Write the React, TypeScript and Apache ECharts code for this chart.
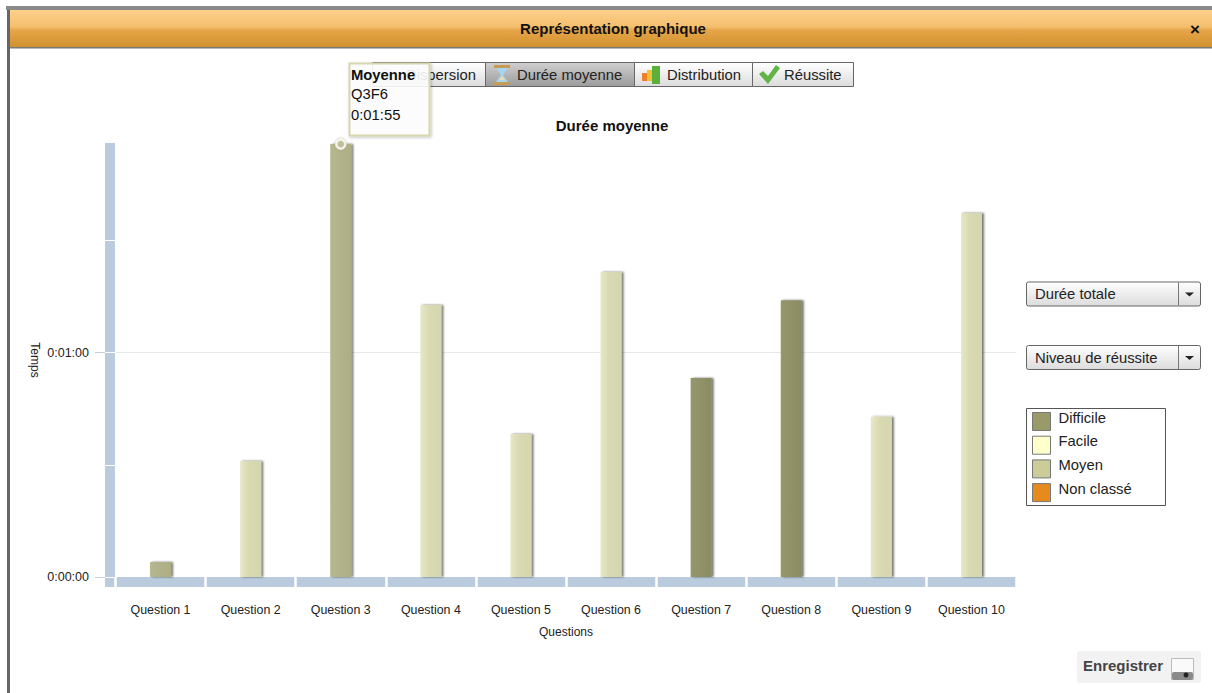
import React, { useEffect, useRef } from "react";
import * as echarts from "echarts";

const questions = ["Question 1","Question 2","Question 3","Question 4","Question 5","Question 6","Question 7","Question 8","Question 9","Question 10"];
const durations = [4, 31, 115.7, 72.7, 38.2, 81.5, 53.2, 74, 42.8, 97.3];
const levels = ["Moyen","Moyen","Moyen","Moyen","Moyen","Moyen","Difficile","Difficile","Moyen","Moyen"];
const strongMoyen = ["Question 1", "Question 3"];
const levelNames = ["Difficile","Facile","Moyen","Non classé"];
const legendColors = ["#99996a","#ffffcc","#cccc99","#e68a1e"];
const tickValues = [0, 30, 60, 90];
const labelValues = [0, 60];
const highlighted = "Question 3";
const tooltipLines = ["Moyenne", "Q3F6", "0:01:55"];
const tabs = ["Dispersion", "Durée moyenne", "Distribution", "Réussite"];
const selects = ["Durée totale", "Niveau de réussite"];

const FONT = '"Liberation Sans", Arial, sans-serif';
const LG = (stops: [number, string][], horizontal = false) =>
  new echarts.graphic.LinearGradient(0, 0, horizontal ? 1 : 0, horizontal ? 0 : 1, stops.map(([offset, color]) => ({ offset, color })));

const hms = (v: number) => {
  const h = Math.floor(v / 3600), m = Math.floor((v % 3600) / 60), s = Math.floor(v % 60);
  return `${h}:${String(m).padStart(2, "0")}:${String(s).padStart(2, "0")}`;
};

const text = (t: string, x: number, y: number, size: number, extra: any = {}, z = 10) => ({
  type: "text", z, silent: true,
  style: { text: t, x, y, font: `${extra.bold ? "bold " : ""}${size}px ${FONT}`, fill: extra.fill || "#222", align: extra.align || "left", verticalAlign: "middle", opacity: extra.opacity ?? 1 },
});
const rect = (x: number, y: number, w: number, h: number, fill: any, extra: any = {}, z = 5) => ({
  type: "rect", z, silent: true, shape: { x, y, width: w, height: h, r: extra.r || 0 },
  style: { fill, stroke: extra.stroke, lineWidth: extra.lineWidth ?? (extra.stroke ? 1 : 0), shadowBlur: extra.shadowBlur, shadowColor: extra.shadowColor, shadowOffsetX: extra.sx, shadowOffsetY: extra.sy },
});
const poly = (points: number[][], fill: string, z = 8, stroke?: string) => ({
  type: "polygon", z, silent: true, shape: { points }, style: { fill, stroke, lineWidth: stroke ? 1 : 0 },
});

function chrome(): any[] {
  const normal = LG([[0, "#ffffff"], [1, "#dcdcdc"]]);
  const active = LG([[0, "#cfcfcf"], [1, "#9b9b9b"]]);
  const tabX = [372.5, 485.5, 634.5, 752.5, 853.5];
  const tabTextX = [406, 517, 667, 784];
  const out: any[] = [
    rect(6, 6, 1206, 4, "#8a8a8a"),
    rect(7, 10, 3, 683, "#666666"),
    rect(10, 10, 1202, 37, LG([[0, "#fdd08c"], [0.45, "#f4bf6e"], [0.55, "#e6a548"], [1, "#d0912f"]])),
    rect(10, 47, 1202, 1.5, "#777777"),
    text("Représentation graphique", 613, 28.5, 15, { bold: true, align: "center", fill: "#111" }),
    text("×", 1195, 29, 17, { bold: true, align: "center", fill: "#111" }),
  ];
  tabs.forEach((t, i) => {
    out.push(rect(tabX[i], 62.5, tabX[i + 1] - tabX[i], 24, i === 1 ? active : normal, { stroke: "#666" }));
    out.push(text(t, tabTextX[i], 74.5, 14.8, { fill: "#222" }));
  });
  // dispersion icon (behind the tooltip)
  out.push({ type: "ring", z: 8, silent: true, shape: { cx: 386, cy: 75, r: 7, r0: 4 }, style: { fill: "#cccccc" } });
  // hourglass
  out.push(rect(494, 65, 16, 3, "#c89a52", {}, 8), rect(494, 82, 16, 3, "#c89a52", {}, 8));
  out.push(poly([[496, 68], [508, 68], [503, 75], [508, 82], [496, 82], [501, 75]], "#a9d4ee"));
  out.push(poly([[499, 80], [505, 80], [502, 76]], "#eed9a8", 9));
  // distribution
  out.push(rect(642, 73, 5, 8, "#ee7f2d", {}, 8), rect(647, 70, 5, 11, "#f1c232", {}, 8), rect(652, 66, 8, 18, "#5ab03a", {}, 8));
  // check
  out.push(poly([[759, 74], [763, 71], [768, 76], [776, 65], [780, 68], [768, 84]], "#62b446"));
  // selects
  [281.5, 345].forEach((y, i) => {
    out.push(rect(1026.5, y + 0.5, 174, 24, normal, { stroke: "#666", r: 2 }));
    out.push(rect(1178, y + 1, 1, 23, "#777777", {}, 6));
    out.push(poly([[1185, y + 11], [1194, y + 11], [1189.5, y + 15]], "#222"));
    out.push(text(selects[i], 1035, y + 12.5, 14.8));
  });
  // legend frame
  out.push(rect(1026.5, 408.5, 139, 97, "#ffffff", { stroke: "#555" }, 1));
  // corner of the axis band
  out.push(rect(105, 577.5, 10, 9.5, "#b9cbdc", {}, 1));
  // save button
  out.push(rect(1077, 651, 124, 32, "#f2f2f2", { r: 3 }));
  out.push(text("Enregistrer", 1083, 665, 15, { bold: true, fill: "#444" }));
  out.push(rect(1171.5, 658.5, 22, 21, "#fafafa", { stroke: "#bbb" }, 8));
  out.push(rect(1172, 672, 21, 8, "#8a8a8a", { r: 2 }, 9));
  out.push({ type: "circle", z: 10, silent: true, shape: { cx: 1186, cy: 675, r: 2.5 }, style: { fill: "#222" } });
  // tooltip
  out.push(rect(349.5, 63.5, 80, 72, "rgba(255,255,255,0.88)", { stroke: "#d6d6ae", lineWidth: 2, shadowBlur: 3, shadowColor: "rgba(0,0,0,0.25)", sx: 1, sy: 1 }, 20));
  tooltipLines.forEach((line, i) => out.push(text(line, 351, [75, 94, 115][i], 14.8, { bold: i === 0, fill: "#111" }, 21)));
  return out;
}

function barStyle(name: string, level: string) {
  if (level === "Difficile") return LG([[0, "#96966c"], [1, "#8c8c62"]], true);
  if (strongMoyen.includes(name)) return LG([[0, "#b6b690"], [1, "#aeae84"]], true);
  return LG([[0, "#e8e8c8"], [0.4, "#d9d9b2"], [1, "#d6d6ae"]], true);
}

export default function App() {
  const ref = useRef<HTMLDivElement>(null);
  useEffect(() => {
    const chart = echarts.init(ref.current!, undefined, { renderer: "svg" });
    const shadow = { shadowColor: "rgba(0,0,0,0.55)", shadowBlur: 2, shadowOffsetX: 2, shadowOffsetY: 0 };
    const baseY = { type: "value", min: 0, max: 116, splitLine: { show: false }, axisLabel: { show: false }, axisTick: { show: false }, axisLine: { show: false, onZero: false } };
    chart.setOption({
      animation: false,
      backgroundColor: "#ffffff",
      textStyle: { fontFamily: FONT },
      title: { text: "Durée moyenne", left: 612, top: 118, textAlign: "center", padding: 0, textStyle: { fontSize: 15, fontWeight: "bold", color: "#111", fontFamily: FONT } },
      grid: { left: 115.5, top: 143, width: 901, height: 434, containLabel: false },
      xAxis: [
        { type: "category", data: questions, position: "bottom", offset: 5, z: 1,
          axisLine: { show: true, onZero: false, lineStyle: { color: "#b9cbdc", width: 10, cap: "butt" } }, axisTick: { show: false }, axisLabel: { show: false } },
        { type: "category", data: questions, position: "bottom", z: 2,
          axisLine: { show: false, onZero: false },
          axisTick: { show: true, length: 10, lineStyle: { color: "#ffffff", width: 2.5 } },
          axisLabel: { show: true, margin: 27, fontSize: 12.4, color: "#222", fontFamily: FONT, interval: 0 },
          name: "Questions", nameLocation: "middle", nameGap: 49, nameTextStyle: { fontSize: 12, color: "#222", fontFamily: FONT } },
      ],
      yAxis: [
        { ...baseY, position: "left", offset: 5.5, z: 1, axisLine: { show: true, onZero: false, lineStyle: { color: "#b9cbdc", width: 10, cap: "butt" } } },
        { ...baseY, position: "left", offset: 10.5, z: 2, axisTick: { show: true, inside: true, length: 10, customValues: tickValues, lineStyle: { color: "#ffffff", width: 1 } } },
        { ...baseY, position: "left", offset: 10.5, z: 2,
          axisTick: { show: true, length: 10, customValues: labelValues, lineStyle: { color: "#c3d0de", width: 1 } },
          axisLabel: { show: true, customValues: labelValues, margin: 16, fontSize: 12.5, color: "#222", fontFamily: FONT, formatter: (v: number) => hms(v) },
          name: "Temps", nameLocation: "middle", nameRotate: -90, nameGap: 64.5, nameMoveOverlap: false, nameTextStyle: { fontSize: 12, color: "#222", fontFamily: FONT } },
      ],
      legend: {
        orient: "vertical", left: 1032, top: 410, padding: 0, itemWidth: 18, itemHeight: 18, itemGap: 2.7, icon: "rect",
        selectedMode: false, align: "left",
        data: levelNames.map((name, i) => ({ name, itemStyle: { color: legendColors[i], borderColor: "#777", borderWidth: 1, shadowBlur: 0, shadowColor: "transparent", shadowOffsetX: 0 } })),
        formatter: (name: string) => `{t|${name}}`,
        textStyle: { fontSize: 14.8, color: "#222", fontFamily: FONT,
          rich: { t: { fontSize: 14.8, color: "#222", fontFamily: FONT, padding: [0, 0, 8, 3] } } },
      },
      graphic: { elements: chrome() },
      series: [
        ...levelNames.map((name, i) => ({
          name, type: "bar", z: 3, barWidth: 21, barGap: "-100%", xAxisIndex: 0, yAxisIndex: 0,
          itemStyle: { color: legendColors[i], ...shadow },
          data: questions.map((q, k) => levels[k] === name ? { value: durations[k], itemStyle: { color: barStyle(q, name) } } : null),
        })),
        { name: "grille", type: "line", data: [], xAxisIndex: 0, yAxisIndex: 0, z: 1, silent: true,
          markLine: { z: 1, silent: true, symbol: "none", label: { show: false }, lineStyle: { color: "#e9e9e9", width: 1, type: "solid" }, data: [{ yAxis: labelValues[1] }] } },
        { name: "sélection", type: "scatter", xAxisIndex: 0, yAxisIndex: 0, z: 6, clip: false, symbolSize: 9,
          itemStyle: { color: "#c4c49c", borderColor: "#ffffff", borderWidth: 2.5, shadowColor: "#a8a87e", shadowBlur: 2 },
          data: questions.map((q, k) => q === highlighted ? durations[k] : null) },
      ],
    });
    return () => chart.dispose();
  }, []);
  return <div ref={ref} style={{ position: "fixed", left: 0, top: 0, width: 1212, height: 693 }} />;
}
